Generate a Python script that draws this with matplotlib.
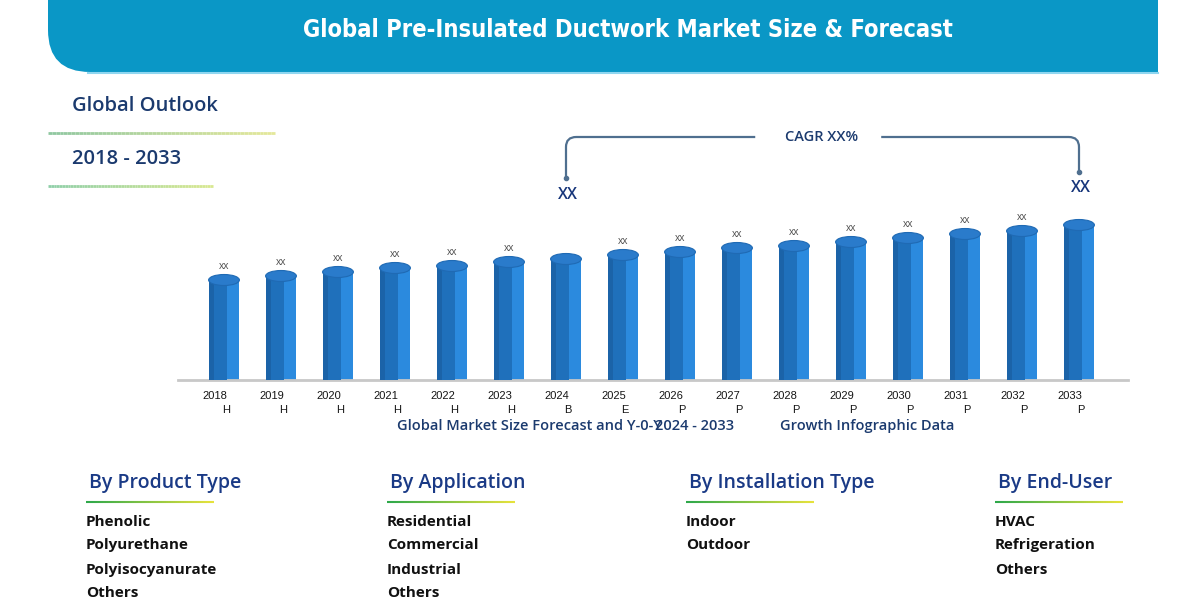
import matplotlib.pyplot as plt
import numpy as np
from matplotlib.patches import PathPatch, Ellipse
from matplotlib.path import Path
from matplotlib.collections import LineCollection
from matplotlib.colors import LinearSegmentedColormap
from matplotlib import font_manager

## data (bar heights in pixel-ish units)
years = ['2018', '2019', '2020', '2021', '2022', '2023', '2024', '2025',
         '2026', '2027', '2028', '2029', '2030', '2031', '2032', '2033']
phase = ['H', 'H', 'H', 'H', 'H', 'H', 'B', 'E', 'P', 'P', 'P', 'P', 'P', 'P', 'P', 'P']
values = [100, 104, 108, 112, 114, 118, 121, 125, 128, 132, 134, 138, 142, 146, 149, 155]
bar_labels = ['xx', 'xx', 'xx', 'xx', 'xx', 'xx', '', 'xx',
              'xx', 'xx', 'xx', 'xx', 'xx', 'xx', 'xx', '']

title = 'Global Pre-Insulated Ductwork Market Size & Forecast'
outlook = 'Global Outlook'
period = '2018 - 2033'
cagr_text = 'CAGR XX%'
cagr_ends = ['2024', '2033']

segments = ['By Product Type', 'By Application', 'By Installation Type', 'By End-User']
product_type = ['Phenolic', 'Polyurethane', 'Polyisocyanurate', 'Others']
application = ['Residential', 'Commercial', 'Industrial', 'Others']
installation = ['Indoor', 'Outdoor']
end_user = ['HVAC', 'Refrigeration', 'Others']
seg_items = [product_type, application, installation, end_user]
seg_x = [86, 387, 686, 995]

NAVY = '#1b3a6e'
HEAD = '#1a3a86'
SANS = ['Open Sans', 'DejaVu Sans']
ARIAL = ['Liberation Sans', 'DejaVu Sans']

# condensed face for the banner title if one is installed
cond = [f for f in font_manager.fontManager.ttflist
        if f.name == 'DejaVu Sans' and str(f.stretch) in ('condensed', 'semi-condensed')]

fig = plt.figure(figsize=(12, 6.16), dpi=100)
bg = fig.add_axes([0, 0, 1, 1])
bg.set_xlim(0, 1200)
bg.set_ylim(616, 0)
bg.axis('off')

## banner with rounded lower-left corner
verts = [(48, 0), (48, 30), (48, 72), (90, 72), (1158, 72), (1158, 0), (48, 0)]
codes = [Path.MOVETO, Path.LINETO, Path.CURVE3, Path.CURVE3, Path.LINETO, Path.LINETO, Path.CLOSEPOLY]
bg.add_patch(PathPatch(Path(verts, codes), facecolor='#0a97c6', edgecolor='none'))
bg.plot([88, 1158], [73, 73], color='#8fd6f0', lw=1.5)
if cond:
    bg.text(628, 30, title, ha='center', va='center', color='white', fontsize=17,
            fontweight='bold', family='DejaVu Sans', fontstretch='condensed')
else:
    bg.text(628, 30, title, ha='center', va='center', color='white', fontsize=15.5,
            fontweight='bold', family=ARIAL)


def grad_line(x0, x1, y, c0, c1, lw=2.0):
    xs = np.linspace(x0, x1, 60)
    segs = [[(xs[k], y), (xs[k + 1], y)] for k in range(len(xs) - 1)]
    cmap = LinearSegmentedColormap.from_list('g', [c0, c1])
    lc = LineCollection(segs, colors=cmap(np.linspace(0, 1, len(segs))), linewidths=lw)
    bg.add_collection(lc)


bg.text(72, 106, outlook, ha='left', va='center', color=NAVY, fontsize=14.5,
        fontweight='semibold', family=SANS)
grad_line(48, 275, 133, '#8fc7a0', '#e4e89a', 2)
bg.text(72, 159, period, ha='left', va='center', color=NAVY, fontsize=14.5,
        fontweight='semibold', family=SANS)
grad_line(48, 213, 186, '#8fcfa8', '#d8e890', 2)

## segment lists at the bottom
for x, head, items in zip(seg_x, segments, seg_items):
    bg.text(x + 3, 483, head, ha='left', va='center', color=HEAD, fontsize=14,
            fontweight='semibold', family=SANS)
    grad_line(x, x + 128, 502, '#2ea84a', '#e6e23c', 1.5)
    for k, it in enumerate(items):
        yy = [522, 545, 570, 593][k]
        bg.text(x, yy, it, ha='left', va='center', color='#111111', fontsize=11,
                fontweight='bold', family=SANS)

## subtitle under the bars (the reference overlaps "Y-0-Y" and "2024")
bg.text(397, 426, 'Global Market Size Forecast and Y-0-Y', ha='left', va='center',
        color=NAVY, fontsize=10.5, fontweight='semibold', family=SANS)
bg.text(655, 426, '2024 - 2033', ha='left', va='center',
        color=NAVY, fontsize=10.5, fontweight='semibold', family=SANS)
bg.text(780, 426, 'Growth Infographic Data', ha='left', va='center',
        color=NAVY, fontsize=10.5, fontweight='semibold', family=SANS)

## bar chart
ax = fig.add_axes([178 / 1200, (616 - 380) / 616, 950 / 1200, 180 / 616])
ax.patch.set_alpha(0)
ax.set_xlim(-(224 - 178) / 57, (1128 - 224) / 57)
ax.set_ylim(0, 180)
for s in ['top', 'right', 'left']:
    ax.spines[s].set_visible(False)
ax.spines['bottom'].set_color('#c8c8c8')
ax.spines['bottom'].set_linewidth(2)
ax.set_xticks([])
ax.set_yticks([])

x = np.arange(len(years))
w = 0.54
ax.bar(x, values, width=w, color='#2b8ade', zorder=2)
ax.bar(x - w * 0.2, values, width=w * 0.6, color='#1f70bb', zorder=3)
ax.bar(x - w * 0.42, values, width=w * 0.16, color='#1b63a8', zorder=3)
for i, v in enumerate(values):
    ax.add_patch(Ellipse((i, v), w, 11, facecolor='#2a7bcb', edgecolor='#1f6ab4',
                         lw=0.8, zorder=4))
    if bar_labels[i]:
        ax.text(i, v + 14, bar_labels[i], ha='center', va='center', color='#555555',
                fontsize=7.5, family=ARIAL)
    ax.text(i - 0.16, -16, years[i], ha='center', va='center', color='#151515',
            fontsize=8, family=ARIAL, clip_on=False)
    ax.text(i + 0.03, -30, phase[i], ha='center', va='center', color='#151515',
            fontsize=8, family=ARIAL, clip_on=False)

## CAGR bracket between 2024 and 2033
i0, i1 = years.index(cagr_ends[0]), years.index(cagr_ends[1])
top = 243
r = 0.18
lc = '#4f6f8f'
left_path = Path([(i0, 202), (i0, top - 10), (i0, top), (i0 + r, top), (i0 + 3.32, top)],
                 [Path.MOVETO, Path.LINETO, Path.CURVE3, Path.CURVE3, Path.LINETO])
right_path = Path([(i1 - 3.47, top), (i1 - r, top), (i1, top), (i1, top - 10), (i1, 208)],
                  [Path.MOVETO, Path.LINETO, Path.CURVE3, Path.CURVE3, Path.LINETO])
for p in [left_path, right_path]:
    ax.add_patch(PathPatch(p, facecolor='none', edgecolor=lc, lw=1.6, clip_on=False))
ax.plot([i0, i1], [202, 208], 'o', color=lc, ms=3, clip_on=False)
ax.text(10.48, top, cagr_text, ha='center', va='center', color=NAVY,
        fontsize=10.5, fontweight='semibold', family=SANS, clip_on=False)
ax.text(i0 + 0.03, 185, 'XX', ha='center', va='center', color='#16357a',
        fontsize=11.5, fontweight='semibold', family=SANS, clip_on=False)
ax.text(i1 + 0.03, 192, 'XX', ha='center', va='center', color='#16357a',
        fontsize=11.5, fontweight='semibold', family=SANS, clip_on=False)

plt.savefig('out.png', dpi=100)
